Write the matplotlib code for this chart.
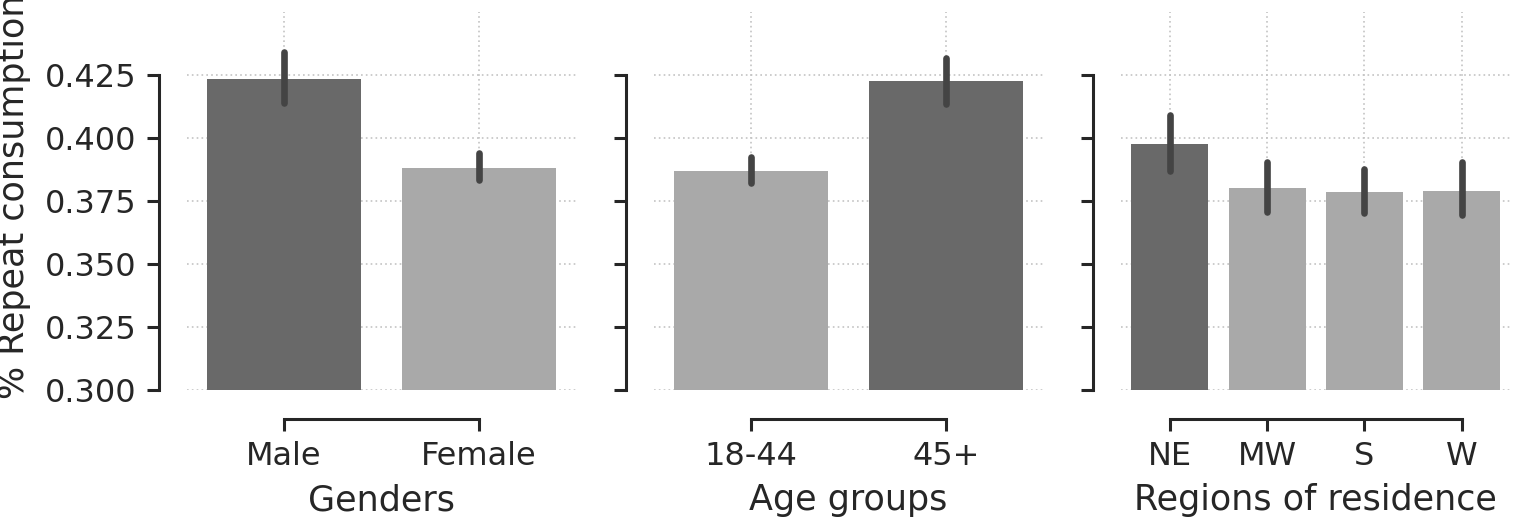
import matplotlib
matplotlib.use("Agg")
import matplotlib.pyplot as plt

# ---- data ----
gender_cats = ["Male", "Female"]
gender_vals = [0.4234, 0.3880]
gender_lo = [0.4139, 0.3832]
gender_hi = [0.4341, 0.3940]

age_cats = ["18-44", "45+"]
age_vals = [0.3868, 0.4226]
age_lo = [0.3820, 0.4135]
age_hi = [0.3924, 0.4318]

region_cats = ["NE", "MW", "S", "W"]
region_vals = [0.3975, 0.3800, 0.3784, 0.3788]
region_lo = [0.3868, 0.3705, 0.3700, 0.3693]
region_hi = [0.4090, 0.3904, 0.3876, 0.3904]

xlabels = ["Genders", "Age groups", "Regions of residence"]
ylabel = "% Repeat consumption"
yticks = [0.300, 0.325, 0.350, 0.375, 0.400, 0.425]

DARK = "#696969"
LIGHT = "#a9a9a9"
ERR = "#444444"
TXT = "#262626"

plt.rcParams['font.family'] = ['DejaVu Sans']

W, H = 1514, 517
fig = plt.figure(figsize=(W / 100, H / 100), dpi=100)

boxes = [(186.5, 576.5), (654, 1043), (1121, 1510.5)]
top_px, bot_px = 12, 389.5

panels = [
    (gender_cats, gender_vals, gender_lo, gender_hi),
    (age_cats, age_vals, age_lo, age_hi),
    (region_cats, region_vals, region_lo, region_hi),
]

axes = []
for i, ((l, r), (cats, vals, lo, hi)) in enumerate(zip(boxes, panels)):
    ax = fig.add_axes([l / W, 1 - bot_px / H, (r - l) / W, (bot_px - top_px) / H])
    axes.append(ax)
    xs = list(range(len(cats)))
    vmax = max(vals)
    colors = [DARK if v == vmax else LIGHT for v in vals]
    ax.set_axisbelow(True)
    ax.bar(xs, vals, width=0.79, color=colors, edgecolor='none', zorder=2)
    ax.vlines(xs, lo, hi, colors=ERR, linewidth=4.8, capstyle='round', zorder=3)
    ax.set_xlim(-0.5, len(cats) - 0.5)
    ax.set_ylim(0.3, 0.45)
    ax.set_yticks(yticks)
    ax.set_xticks(xs)
    ax.set_xticklabels(cats)
    ax.grid(True, linestyle=(0, (1, 1.9)), color='#c4c4c4', linewidth=1.2, zorder=0)
    for s in ['top', 'right']:
        ax.spines[s].set_visible(False)
    ax.spines['left'].set_position(('outward', 20))
    ax.spines['bottom'].set_position(('outward', 21))
    ax.spines['left'].set_bounds(0.3, 0.425)
    ax.spines['bottom'].set_bounds(0, len(cats) - 1)
    for s in ['left', 'bottom']:
        ax.spines[s].set_color(TXT)
        ax.spines[s].set_linewidth(2.2)
    ax.tick_params(axis='both', direction='out', length=8.8, width=2.2,
                   color=TXT, labelcolor=TXT, labelsize=23, pad=7)
    ax.set_xlabel(xlabels[i], fontsize=25.2, color=TXT, labelpad=8.5)
    if i > 0:
        ax.tick_params(axis='y', labelleft=False)

axes[0].set_ylabel(ylabel, fontsize=25.2, color=TXT)
axes[0].yaxis.set_label_coords((31 - 186.5) / (576.5 - 186.5), 0.51)

fig.savefig("out.png", dpi=100)
